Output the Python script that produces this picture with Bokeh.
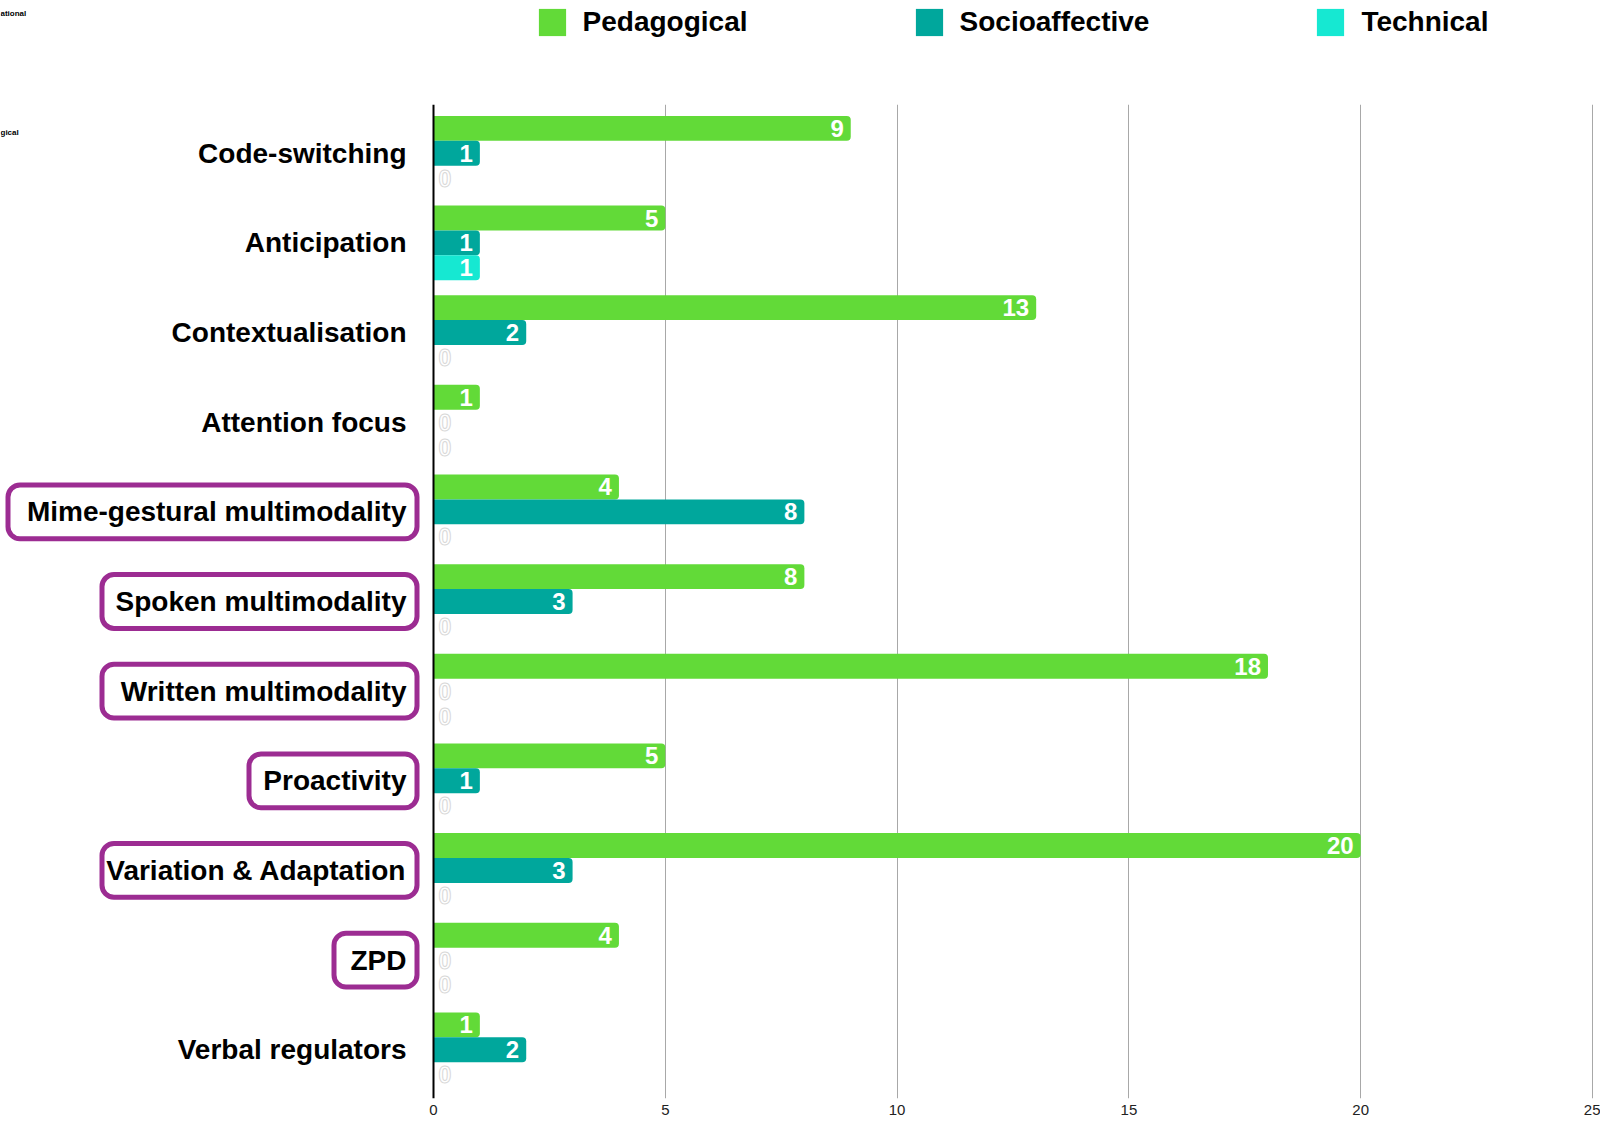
from bokeh.plotting import figure
from bokeh.layouts import column
from bokeh.models import (ColumnDataSource, FactorRange, Range1d, Span, Legend,
                          LegendItem, FixedTicker, Label)
from bokeh.transform import dodge
from bokeh.core.properties import value
from bokeh.embed import file_html
from bokeh.resources import INLINE

# ---------------- data ----------------
categories = ["Code-switching", "Anticipation", "Contextualisation", "Attention focus",
              "Mime-gestural multimodality", "Spoken multimodality", "Written multimodality",
              "Proactivity", "Variation & Adaptation", "ZPD", "Verbal regulators"]
pedagogical = [9, 5, 13, 1, 4, 8, 18, 5, 20, 4, 1]
socioaffective = [1, 1, 2, 0, 8, 3, 0, 1, 3, 0, 2]
technical = [0, 1, 0, 0, 0, 0, 0, 0, 0, 0, 0]
series_names = ["Pedagogical", "Socioaffective", "Technical"]
highlighted = ["Mime-gestural multimodality", "Spoken multimodality", "Written multimodality",
               "Proactivity", "Variation & Adaptation", "ZPD"]
x_ticks = [0, 5, 10, 15, 20, 25]
corner_texts = ["ational", "gical"]

# ---------------- styles / layout ----------------
series_colors = ["#62DA38", "#00A79C", "#16E8D2"]
box_color = "#9C2C92"
FONT = "Liberation Sans"
W = 1600
LEG_H = 104              # header (legend) strip height
H = 1020                 # main plot height
BOTTOM = 26
FRAME_H = H - BOTTOM
ZERO_PX = 433.0          # canvas x of value 0
PX_PER_UNIT = 46.36
BAR_H = 0.2778           # in category units
offsets = [BAR_H, 0.0, -BAR_H]
box_left_px = {"Mime-gestural multimodality": 5, "Spoken multimodality": 99,
               "Written multimodality": 99, "Proactivity": 246,
               "Variation & Adaptation": 99, "ZPD": 331}
BOX_RIGHT_PX = 419.0
LABEL_RIGHT_PX = 406.0


def px2v(cx):
    return (cx - ZERO_PX) / PX_PER_UNIT


# ---------------- legend strip ----------------
lf = figure(width=W, height=LEG_H, x_range=Range1d(0, 1), y_range=Range1d(0, 1),
            output_backend="svg", toolbar_location=None,
            x_axis_location=None, y_axis_location=None,
            min_border_left=0, min_border_right=0, min_border_top=0, min_border_bottom=0,
            outline_line_color=None)
lf.xgrid.visible = False
lf.ygrid.visible = False
leg_renderers = []
for color in series_colors:
    # zero-size proxy glyph: only its swatch is shown in the legend
    leg_renderers.append(lf.hbar(y=[0.5], left=[0], right=[0], height=0,
                                 fill_color=color, line_color=None))
legend = Legend(items=[LegendItem(label=n, renderers=[r])
                       for n, r in zip(series_names, leg_renderers)],
                orientation="horizontal", location=(534.6, LEG_H - 39),
                glyph_width=34, glyph_height=34, label_standoff=14, spacing=164,
                padding=0, margin=0, border_line_color=None, background_fill_alpha=0,
                label_text_font=FONT, label_text_font_size="28px",
                label_text_font_style="bold", label_text_color="black", label_height=34)
lf.add_layout(legend)
lf.add_layout(Label(x=0, y=LEG_H - 8, x_units="screen", y_units="screen",
                    text=corner_texts[0], text_font=FONT, text_font_size="8px",
                    text_font_style="bold", text_baseline="top", text_color="black"))

# ---------------- main chart ----------------
p = figure(width=W, height=H,
           x_range=Range1d(px2v(0), px2v(W)),
           y_range=FactorRange(factors=categories[::-1], range_padding=0.044,
                               range_padding_units="absolute"),
           output_backend="svg", toolbar_location=None, y_axis_location=None,
           min_border_left=0, min_border_right=0, min_border_top=0,
           min_border_bottom=BOTTOM, outline_line_color=None)

p.xaxis.ticker = FixedTicker(ticks=x_ticks)
p.xaxis.axis_line_color = None
p.xaxis.major_tick_line_color = None
p.xaxis.minor_tick_line_color = None
p.xaxis.major_tick_out = 0
p.xaxis.major_tick_in = 0
p.xaxis.minor_tick_out = 0
p.xaxis.major_label_standoff = 6
p.xaxis.major_label_text_font = FONT
p.xaxis.major_label_text_font_size = "15px"
p.xaxis.major_label_text_color = "#222222"
p.xgrid.ticker = FixedTicker(ticks=x_ticks[1:])
p.xgrid.grid_line_color = "#a8a8a8"
p.xgrid.grid_line_width = 1
p.ygrid.visible = False

src = ColumnDataSource(dict(cat=categories, ped=pedagogical, soc=socioaffective, tec=technical))
cols = ["ped", "soc", "tec"]
series_values = [pedagogical, socioaffective, technical]

for col, color, off in zip(cols, series_colors, offsets):
    p.hbar(y=dodge("cat", off, range=p.y_range), left=0, right=col, height=BAR_H,
           fill_color=color, line_color=None, border_radius=(0, 4, 4, 0), source=src)

p.add_layout(Span(location=0, dimension="height", line_color="black", line_width=2))

# value labels
for vals, off in zip(series_values, offsets):
    nz = [(c, v) for c, v in zip(categories, vals) if v > 0]
    z = [(c, v) for c, v in zip(categories, vals) if v == 0]
    s_nz = ColumnDataSource(dict(cat=[c for c, _ in nz], v=[v for _, v in nz],
                                 t=[str(v) for _, v in nz]))
    s_z = ColumnDataSource(dict(cat=[c for c, _ in z], v=[v for _, v in z],
                                t=[str(v) for _, v in z]))
    p.text(x="v", y=dodge("cat", off, range=p.y_range), text="t", source=s_nz,
           text_align="right", text_baseline="middle", x_offset=-7,
           text_color="white", text_font=value(FONT), text_font_style="bold",
           text_font_size="24px")
    p.text(x="v", y=dodge("cat", off, range=p.y_range), text="t", source=s_z,
           text_align="left", text_baseline="middle", x_offset=5,
           text_color="white", text_outline_color="#d8d8d8",
           text_font=value(FONT), text_font_style="bold", text_font_size="23px")

# category labels
p.text(x=px2v(LABEL_RIGHT_PX), y="cat", text="cat", source=src,
       text_align="right", text_baseline="middle", text_color="black",
       text_font=value(FONT), text_font_style="bold", text_font_size="28px")

# highlight boxes
bsrc = ColumnDataSource(dict(cat=highlighted,
                             l=[px2v(box_left_px[c] + 2.5) for c in highlighted],
                             r=[px2v(BOX_RIGHT_PX - 2.5)] * len(highlighted)))
p.quad(left="l", right="r", top=dodge("cat", 0.3, range=p.y_range),
       bottom=dodge("cat", -0.3, range=p.y_range), source=bsrc,
       fill_color=None, line_color=box_color, line_width=5, border_radius=12)

# clipped remnant text near the top-left corner (page y ~131)
p.add_layout(Label(x=0, y=FRAME_H - (131.5 - LEG_H), x_units="screen", y_units="screen",
                   text=corner_texts[1], text_font=FONT, text_font_size="8px",
                   text_font_style="bold", text_baseline="middle", text_color="black"))

open("out.html", "w").write(file_html(column(lf, p, spacing=0), INLINE))
